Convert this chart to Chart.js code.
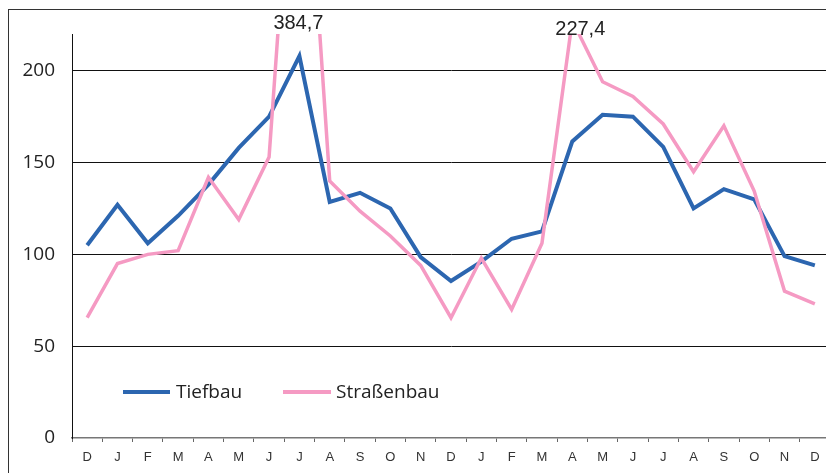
<!DOCTYPE html>
<html>
<head>
<meta charset="utf-8">
<script src="https://cdn.jsdelivr.net/npm/chart.js@4/dist/chart.umd.min.js"></script>
<style>
  html, body { margin: 0; padding: 0; background: #fff; overflow: hidden; width: 826px; height: 473px; }
  #wrap { position: relative; width: 826px; height: 473px; overflow: hidden; }
  #frame { position: absolute; left: 8px; top: 9px; width: 900px; height: 600px; border-left: 1px solid #333; border-top: 1px solid #333; box-sizing: border-box; pointer-events: none; }
  canvas { position: absolute; left: 0; top: 0; }
</style>
</head>
<body>
<div id="wrap">
  <canvas id="c" width="836" height="473"></canvas>
  <div id="frame"></div>
</div>
<script>
const categories = ['D','J','F','M','A','M','J','J','A','S','O','N','D','J','F','M','A','M','J','J','A','S','O','N','D'];
const seriesNames = ['Tiefbau', 'Straßenbau'];
const tiefbau = [105, 127, 106, 121, 138, 158, 175, 208, 128.5, 133.5, 125, 98.5, 85.5, 96, 108.5, 112.5, 161.5, 176, 175, 158.5, 125, 135.5, 130, 99, 94];
const strassenbau = [65.5, 95, 100, 102, 142, 119, 153, 384.7, 140, 123.5, 110, 94, 65.5, 98, 70, 106, 227.4, 194, 186, 171, 145, 170, 134.5, 80, 73];
const yTicks = [0, 50, 100, 150, 200];
const yMax = 220;

const BLUE = '#2c66b0';
const PINK = '#f59ac3';

const overflowLabels = {
  id: 'overflowLabels',
  afterDatasetsDraw(chart) {
    const ctx = chart.ctx;
    const xs = chart.scales.x;
    const ds = chart.data.datasets[1];
    const offsets = [[-1, -11], [8, -5]];
    let k = 0;
    ctx.save();
    ctx.font = '20px "Liberation Sans", Arial, sans-serif';
    ctx.fillStyle = '#222';
    ctx.textAlign = 'center';
    ctx.textBaseline = 'middle';
    ds.data.forEach((v, i) => {
      if (v > yMax) {
        const off = offsets[k] || [0, -8];
        const x = xs.getPixelForValue(i) + off[0];
        const y = chart.chartArea.top + off[1];
        ctx.fillText(String(v).replace('.', ','), x, y);
        k++;
      }
    });
    ctx.restore();
  }
};

const innerLegend = {
  id: 'innerLegend',
  afterDatasetsDraw(chart) {
    const ctx = chart.ctx;
    const items = [
      { x1: 123, x2: 170, tx: 176 },
      { x1: 283, x2: 331, tx: 336 }
    ];
    const y = 392;
    ctx.save();
    ctx.font = '19px "Open Sans", "Noto Sans", sans-serif';
    ctx.textBaseline = 'middle';
    ctx.textAlign = 'left';
    chart.data.datasets.forEach((d, i) => {
      const it = items[i];
      ctx.strokeStyle = d.borderColor;
      ctx.lineWidth = 4;
      ctx.lineCap = 'butt';
      ctx.beginPath();
      ctx.moveTo(it.x1, y);
      ctx.lineTo(it.x2, y);
      ctx.stroke();
      ctx.fillStyle = '#222';
      ctx.fillText(d.label, it.tx, y + 1);
    });
    ctx.restore();
  }
};

new Chart(document.getElementById('c'), {
  type: 'line',
  data: {
    labels: categories,
    datasets: [
      { label: seriesNames[0], data: tiefbau, borderColor: BLUE, backgroundColor: BLUE, borderWidth: 4, pointRadius: 0, tension: 0, order: 1 },
      { label: seriesNames[1], data: strassenbau, borderColor: PINK, backgroundColor: PINK, borderWidth: 3.5, pointRadius: 0, tension: 0, order: 0 }
    ]
  },
  options: {
    responsive: false,
    animation: false,
    devicePixelRatio: 1,
    layout: { padding: { top: 34, right: 6, left: 0, bottom: 0 } },
    plugins: { legend: { display: false }, tooltip: { enabled: false } },
    scales: {
      x: {
        type: 'category',
        offset: true,
        grid: { offset: true, drawOnChartArea: false, drawTicks: true, tickLength: 4, color: '#666', lineWidth: 1 },
        border: { display: true, color: '#777', width: 1.5 },
        ticks: { color: '#333', font: { family: '"Liberation Sans", Arial, sans-serif', size: 13 }, padding: 8, maxRotation: 0, autoSkip: false },
        afterFit(scale) { scale.height = 35; }
      },
      y: {
        min: 0,
        max: yMax,
        afterBuildTicks(scale) { scale.ticks = yTicks.map(v => ({ value: v })); },
        grid: { color: (c) => c.tick && c.tick.value === 0 ? 'rgba(0,0,0,0)' : '#111', lineWidth: 1, drawTicks: false, tickLength: 0 },
        border: { display: true, color: '#111', width: 1 },
        ticks: { color: '#222', font: { family: '"Open Sans", "Noto Sans", sans-serif', size: 19 }, padding: 17 },
        afterFit(scale) { scale.width = 72; }
      }
    }
  },
  plugins: [overflowLabels, innerLegend]
});
</script>
</body>
</html>
